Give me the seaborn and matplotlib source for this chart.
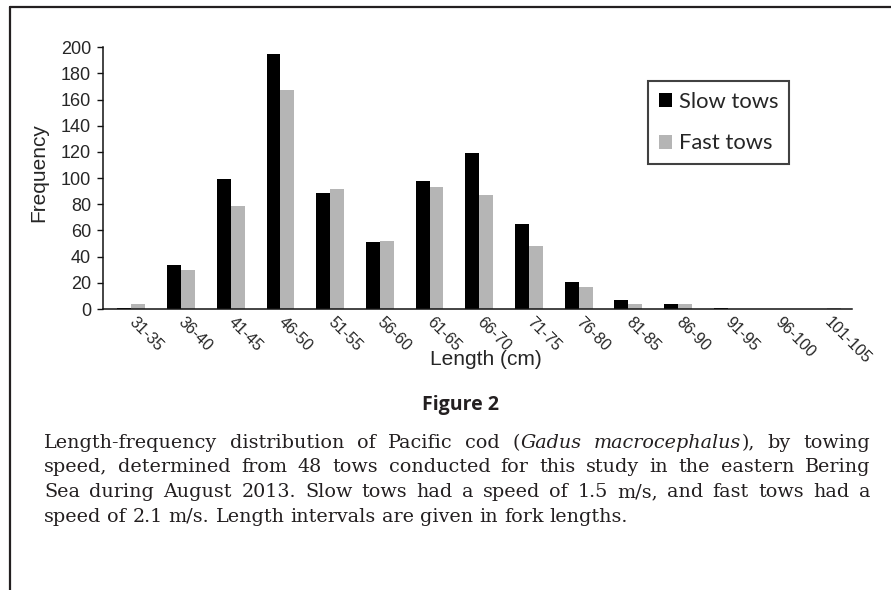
import matplotlib
matplotlib.use("Agg")
import matplotlib.pyplot as plt
import seaborn as sns
import pandas as pd
from matplotlib.lines import Line2D

# ---- data ----
categories = ["31-35", "36-40", "41-45", "46-50", "51-55", "56-60", "61-65",
              "66-70", "71-75", "76-80", "81-85", "86-90", "91-95", "96-100", "101-105"]
slow_tows = [1, 34, 99, 195, 89, 51, 98, 119, 65, 21, 7, 4, 1, 0, 0]
fast_tows = [4, 30, 79, 167, 92, 52, 93, 87, 48, 17, 4, 4, 0, 0, 1]
series_names = ["Slow tows", "Fast tows"]
y_ticks = [0, 20, 40, 60, 80, 100, 120, 140, 160, 180, 200]

x_label = "Length (cm)"
y_label = "Frequency"
fig_title = "Figure 2"
caption_lines = [
    [[("Length-frequency", "normal")], [("distribution", "normal")], [("of", "normal")],
     [("Pacific", "normal")], [("cod", "normal")], [("(", "normal"), ("Gadus", "italic")],
     [("macrocephalus", "italic"), ("),", "normal")], [("by", "normal")], [("towing", "normal")]],
    [[(w, "normal")] for w in "speed, determined from 48 tows conducted for this study in the eastern Bering".split()],
    [[(w, "normal")] for w in "Sea during August 2013. Slow tows had a speed of 1.5 m/s, and fast tows had a".split()],
    [[(w, "normal")] for w in "speed of 2.1 m/s. Length intervals are given in fork lengths.".split()],
]

df = pd.DataFrame({
    "Length": categories * 2,
    "Frequency": slow_tows + fast_tows,
    "Tow": [series_names[0]] * len(categories) + [series_names[1]] * len(categories),
})

W, H = 891, 590
fig = plt.figure(figsize=(W / 100, H / 100), dpi=100)
sns.set_style("white")
plt.rcParams["font.family"] = ["Liberation Sans", "DejaVu Sans"]

ax = fig.add_axes([103 / W, 1 - 309 / H, 749 / W, 261.7 / H])
sns.barplot(data=df, x="Length", y="Frequency", hue="Tow", order=categories,
            hue_order=series_names, palette=["#000000", "#b5b5b5"],
            width=0.56, gap=0, saturation=1, linewidth=0, ax=ax)

ax.set_xlim(-0.57, 14.5)
ax.set_ylim(0, 200)
ax.set_yticks(y_ticks)
for s in ["top", "right"]:
    ax.spines[s].set_visible(False)
for s in ["left", "bottom"]:
    ax.spines[s].set_color("#111111")
    ax.spines[s].set_linewidth(1.1)

ax.tick_params(axis="y", direction="out", length=4, width=1.0, color="#111111",
               labelsize=13, pad=4.5, left=True)
ax.tick_params(axis="x", length=0, pad=8, labelsize=11.5)
for lbl in ax.get_xticklabels():
    lbl.set_rotation(-45)
    lbl.set_ha("left")
    lbl.set_va("center")
    lbl.set_rotation_mode("anchor")

ax.set_xlabel(x_label, fontsize=15)
ax.set_ylabel(y_label, fontsize=15)
ax.xaxis.set_label_coords(0.511, -0.157)
ax.yaxis.set_label_coords(-0.073, 0.52)

handles, labels = ax.get_legend_handles_labels()
if ax.get_legend() is not None:
    ax.get_legend().remove()
leg = ax.legend(handles, labels, loc="upper left",
                bbox_to_anchor=(648 / W, 1 - 81 / H), bbox_transform=fig.transFigure,
                borderaxespad=0, frameon=True, fancybox=False, shadow=False,
                prop={"family": "Lato", "size": 15.8},
                handlelength=0.6, handleheight=0.6, handletextpad=0.3,
                labelspacing=0.98, borderpad=0.5)
leg.get_frame().set_edgecolor("#111111")
leg.get_frame().set_linewidth(1.5)

# figure frame (top and left border)
fig.add_artist(Line2D([10 / W, 1.0], [1 - 6.5 / H, 1 - 6.5 / H], transform=fig.transFigure,
                      color="#231f20", linewidth=1.6))
fig.add_artist(Line2D([10 / W, 10 / W], [1 - 6.5 / H, 0.0], transform=fig.transFigure,
                      color="#231f20", linewidth=1.6))

# figure title
fig.text(460 / W, 1 - 405 / H, fig_title, ha="center", va="center",
         fontsize=14, fontweight="bold", family=["Open Sans", "DejaVu Sans"], color="#231f20")

# justified caption
fig.canvas.draw()
renderer = fig.canvas.get_renderer()
cap_fs = 13.8
cap_family = ["DejaVu Serif"]
x_left, x_right = 44.0, 870.0
baselines = [448, 472.5, 497, 521.5]

space_t = fig.text(0, 0, "a a", fontsize=cap_fs, family=cap_family)
a_t = fig.text(0, 0, "aa", fontsize=cap_fs, family=cap_family)
space_w = space_t.get_window_extent(renderer).width - a_t.get_window_extent(renderer).width
space_t.remove()
a_t.remove()

for i, line in enumerate(caption_lines):
    words = []
    total = 0.0
    for word in line:
        segs = []
        ww = 0.0
        for txt, st in word:
            t = fig.text(0, 1 - baselines[i] / H, txt, fontsize=cap_fs, family=cap_family,
                         style=st, va="baseline", ha="left", color="#231f20")
            w = t.get_window_extent(renderer).width
            segs.append((t, w))
            ww += w
        words.append((segs, ww))
        total += ww
    if i < len(caption_lines) - 1:
        gap = (x_right - x_left - total) / (len(words) - 1)
    else:
        gap = space_w
    x = x_left
    for segs, ww in words:
        xx = x
        for t, w in segs:
            t.set_x(xx / W)
            xx += w
        x += ww + gap

fig.savefig("out.png", dpi=100)
